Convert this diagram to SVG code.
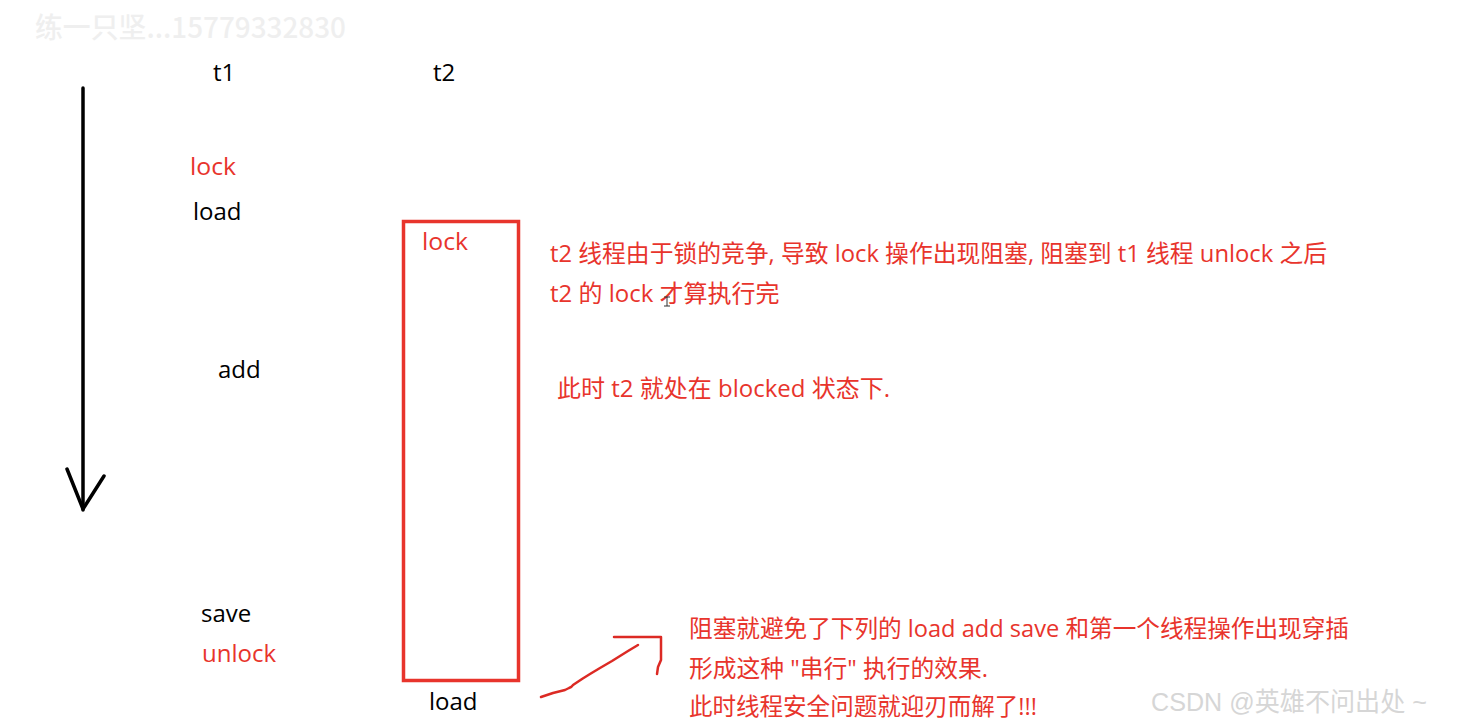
<svg xmlns="http://www.w3.org/2000/svg" width="1463" height="727" viewBox="0 0 1463 727">
<style>
text{font-family:"Open Sans","Noto Sans","Noto Sans CJK SC",sans-serif;font-size:24px}
.k{fill:#000}.r{fill:#e8342c}
.ink{fill:none;stroke-linecap:round;stroke-linejoin:round}
</style>
<rect width="1463" height="727" fill="#fff"/>
<text id="wm1" x="35" y="38" textLength="311" lengthAdjust="spacingAndGlyphs" style="font-family:'Noto Sans CJK SC',sans-serif;font-size:28px;font-weight:500" fill="#efefef">练一只坚...15779332830</text>
<g id="connectors">
<g class="ink" stroke="#000" stroke-width="3.500">
<path d="M83 88V510"/><path d="M67 469L83 509L104 476"/>
</g>
<g class="ink" stroke="#dc2a24" stroke-width="2.500">
<path d="M541 697L553 693L565 690L569 688Q572 687 573 685L582 679L590 674L600 668L612 661L628 651L638 645"/>
<path d="M614 637L661 637V660L658 667L657 674"/>
</g>
</g>
<g id="t1-label"><text class="k" x="213" y="81">t1</text></g>
<g id="t2-label"><text class="k" x="433" y="81">t2</text></g>
<g id="t1-lock"><text class="r" x="190" y="175" textLength="46" lengthAdjust="spacingAndGlyphs">lock</text></g>
<g id="t1-load"><text class="k" x="193" y="220">load</text></g>
<g id="t1-add"><text class="k" x="218" y="378">add</text></g>
<g id="t1-save"><text class="k" x="201" y="622">save</text></g>
<g id="t1-unlock"><text class="r" x="202" y="662">unlock</text></g>
<g id="t2-box">
<rect x="403.500" y="221.500" width="115" height="459" fill="none" stroke="#e8342c" stroke-width="3.500"/>
<text class="r" x="422" y="250" textLength="46" lengthAdjust="spacingAndGlyphs">lock</text>
</g>
<g id="t2-load"><text class="k" x="429" y="710">load</text></g>
<g id="note1">
<text class="r" x="550" y="262" textLength="777" lengthAdjust="spacingAndGlyphs">t2 线程由于锁的竞争, 导致 lock 操作出现阻塞, 阻塞到 t1 线程 unlock 之后</text>
<text class="r" x="550" y="302">t2 的 lock 才算执行完</text>
</g>
<path id="cursor" d="M664 297H670M667 297V306M664 306H670" fill="none" stroke="#333" stroke-width="1"/>
<g id="note2"><text class="r" x="557" y="397">此时 t2 就处在 blocked 状态下.</text></g>
<g id="note3">
<text class="r" x="689" y="637" textLength="660" lengthAdjust="spacingAndGlyphs">阻塞就避免了下列的 load add save 和第一个线程操作出现穿插</text>
<text class="r" x="689" y="677" textLength="299" lengthAdjust="spacingAndGlyphs">形成这种 "串行" 执行的效果.</text>
<text class="r" x="689" y="715" textLength="348" lengthAdjust="spacingAndGlyphs">此时线程安全问题就迎刃而解了!!!</text>
</g>
<text id="wm2" x="1151" y="711" textLength="276" lengthAdjust="spacingAndGlyphs" style="font-family:'Liberation Sans','Noto Sans CJK SC',sans-serif;font-size:26px" fill="#d6d6d6">CSDN @英雄不问出处 ~</text>
</svg>
